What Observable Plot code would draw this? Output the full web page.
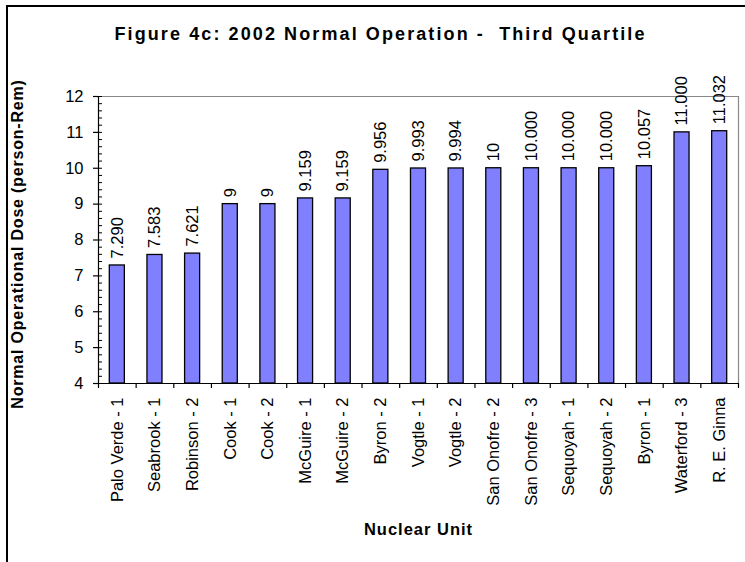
<!DOCTYPE html>
<html>
<head>
<meta charset="utf-8">
<script src="https://cdn.jsdelivr.net/npm/d3@7"></script>
<script src="https://cdn.jsdelivr.net/npm/@observablehq/plot@0.6"></script>
<style>
  html, body { margin: 0; padding: 0; background: white; overflow: hidden; }
  #wrap { position: relative; width: 745px; height: 562px; overflow: hidden; }
  #border { position: absolute; left: 6px; top: 5px; width: 800px; height: 640px; border: 2px solid black; pointer-events: none; }
  svg text { white-space: pre; }
</style>
</head>
<body>
<div id="wrap"><div id="border"></div></div>
<script>
const names = ["Palo Verde - 1", "Seabrook - 1", "Robinson - 2", "Cook - 1", "Cook - 2", "McGuire - 1", "McGuire - 2", "Byron - 2", "Vogtle - 1", "Vogtle - 2", "San Onofre - 2", "San Onofre - 3", "Sequoyah - 1", "Sequoyah - 2", "Byron - 1", "Waterford - 3", "R. E. Ginna"];
const values = [7.290, 7.583, 7.621, 9, 9, 9.159, 9.159, 9.956, 9.993, 9.994, 10, 10.000, 10.000, 10.000, 10.057, 11.000, 11.032];
const valueLabels = ["7.290", "7.583", "7.621", "9", "9", "9.159", "9.159", "9.956", "9.993", "9.994", "10", "10.000", "10.000", "10.000", "10.057", "11.000", "11.032"];
const yTicks = [4, 5, 6, 7, 8, 9, 10, 11, 12];
const title = "Figure 4c: 2002 Normal Operation -  Third Quartile";
const yLabel = "Normal Operational Dose (person-Rem)";
const xLabel = "Nuclear Unit";

const data = names.map((name, i) => ({name, i, value: values[i], label: valueLabels[i]}));
const minorTicks = d3.range(20, 61).map(v => v / 5);
const boundaries = d3.range(0, names.length + 1);

const chart = Plot.plot({
  width: 745,
  height: 562,
  marginLeft: 98,
  marginRight: 7,
  marginTop: 96,
  marginBottom: 179,
  style: {fontFamily: "'Liberation Sans', Arial, sans-serif", fontSize: "16.5px", color: "black", background: "transparent"},
  x: {type: "linear", domain: [0, names.length], axis: null, label: null},
  y: {domain: [4, 12], axis: null, label: null},
  marks: [
    // plot frame (gray top/right)
    Plot.ruleY([12], {stroke: "#888", strokeWidth: 1.2}),
    Plot.ruleX([names.length], {y1: 4, y2: 12, stroke: "#888", strokeWidth: 1.2}),
    // bars
    Plot.rectY(data, {x1: "i", x2: d => d.i + 1, y1: 4, y2: "value", insetLeft: 11.3, insetRight: 11.3, fill: "#8080FF", stroke: "black", strokeWidth: 1.3}),
    // axes lines
    Plot.ruleX([0], {y1: 4, y2: 12, stroke: "black", strokeWidth: 1.2}),
    Plot.ruleY([4], {stroke: "black", strokeWidth: 1.2}),
    // y axis
    Plot.axisY({ticks: yTicks, tickSize: 5, tickPadding: 10, fontSize: 16.5, strokeWidth: 1.2, label: null}),
    Plot.tickY(minorTicks, {y: d => d, insetRight: 636, stroke: "black", strokeWidth: 1}),
    // x axis boundary ticks
    Plot.axisX({ticks: boundaries, tickSize: 5, tickFormat: () => "", strokeWidth: 1.2, label: null}),
    // category labels
    Plot.text(data, {x: d => d.i + 0.5, y: 4, text: "name", rotate: -90, textAnchor: "end", dy: 14, fontSize: 16.5}),
    // value labels
    Plot.text(data, {x: d => d.i + 0.5, y: "value", text: "label", rotate: -90, textAnchor: "start", dy: -7, fontSize: 16.5}),
    // titles
    Plot.text([title], {frameAnchor: "top", textAnchor: "middle", lineAnchor: "middle", dx: -38, dy: -62, fontWeight: "bold", fontSize: 18}),
    Plot.text([yLabel], {frameAnchor: "left", textAnchor: "middle", lineAnchor: "middle", dx: -81, dy: 4, rotate: -90, fontWeight: "bold", fontSize: 16}),
    Plot.text([xLabel], {frameAnchor: "bottom", textAnchor: "middle", lineAnchor: "middle", dy: 146, fontWeight: "bold", fontSize: 16.5})
  ]
});
const spacing = new Map([[title, "2.1px"], [yLabel, "0.8px"], [xLabel, "1px"]]);
d3.select(chart).selectAll("text").each(function() {
  const s = spacing.get(this.textContent);
  if (s) this.style.letterSpacing = s;
});
document.getElementById("wrap").prepend(chart);
</script>
</body>
</html>
